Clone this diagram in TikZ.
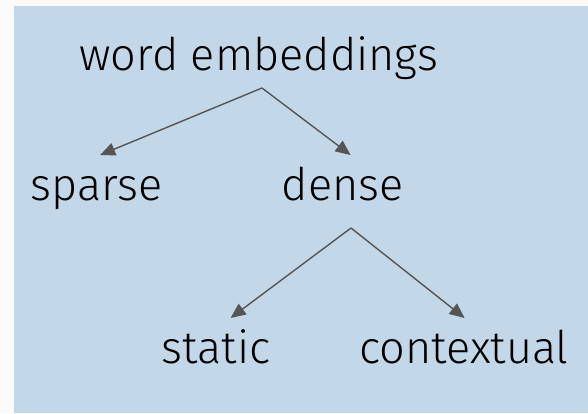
\documentclass[tikz,border=0pt]{standalone}
\usepackage{fontspec}
\setmainfont{Fira Sans}[UprightFont={* Light}]
\usetikzlibrary{arrows.meta}
\definecolor{bgblue}{RGB}{194,215,232}
\definecolor{outer}{RGB}{250,250,250}
\definecolor{arrowgray}{RGB}{85,85,85}
\tikzset{
  lbl/.style={inner sep=0pt, anchor=base, font=\fontsize{45}{54}\selectfont, text=black},
  arr/.style={draw=arrowgray, line width=1.4pt, -{Triangle[length=15pt,width=13pt]}},
}
\begin{document}
\begin{tikzpicture}[x=1pt,y=1pt]
\useasboundingbox (0,0) rectangle (588,-413);
\fill[outer] (0,0) rectangle (588,-413);
\fill[bgblue] (13.5,-6) rectangle (588,-413);
\node[lbl] (we) at (258.75,-70.5) {word embeddings};
\node[lbl] (sparse) at (96.75,-200) {sparse};
\node[lbl] (dense) at (342.6,-200) {dense};
\node[lbl] (static) at (216,-363) {static};
\node[lbl] (ctx) at (464,-363) {contextual};
\draw[arr] ([shift={(3.25,-17.5)}]we.base) -- ([shift={(3.4,45)}]sparse.base);
\draw[arr] ([shift={(3.25,-17.5)}]we.base) -- ([shift={(8,45)}]dense.base);
\draw[arr] ([shift={(8.4,-28)}]dense.base) -- ([shift={(14.6,45)}]static.base);
\draw[arr] ([shift={(8.4,-28)}]dense.base) -- ([shift={(0.6,45)}]ctx.base);
\end{tikzpicture}
\end{document}
